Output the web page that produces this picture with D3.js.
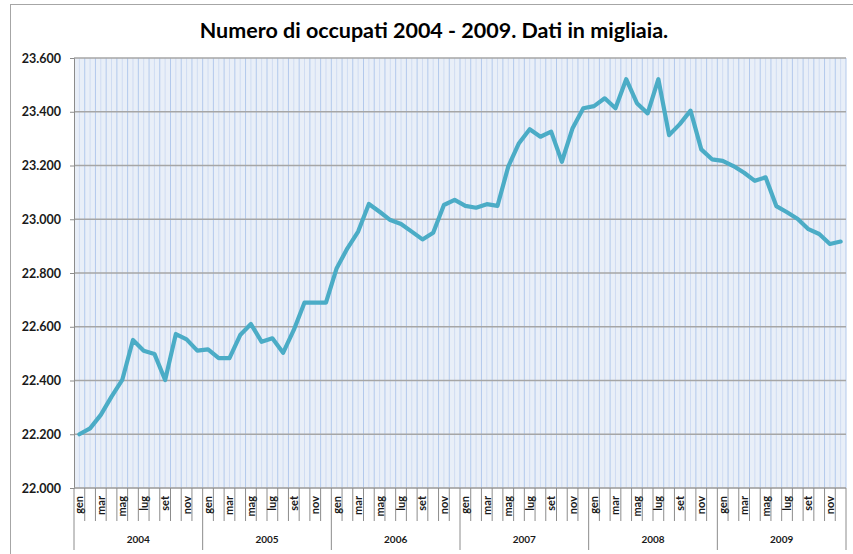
<!DOCTYPE html>
<html>
<head>
<meta charset="utf-8">
<script src="https://cdn.jsdelivr.net/npm/d3@7"></script>
<style>
  body { margin: 0; background: #fff; }
  svg { display: block; font-family: Lato, "Open Sans", sans-serif; }
</style>
</head>
<body>
<svg id="chart"></svg>
<script>
const WIDTH = 853;
const HEIGHT = 554;

// data (migliaia di occupati), one value per month
const years = [2004, 2005, 2006, 2007, 2008, 2009];
const months = ["gen", "feb", "mar", "apr", "mag", "giu", "lug", "ago", "set", "ott", "nov", "dic"];
const occ2004 = [22200, 22222, 22272, 22340, 22402, 22551, 22511, 22499, 22402, 22573, 22553, 22511];
const occ2005 = [22516, 22483, 22483, 22569, 22610, 22544, 22557, 22503, 22588, 22690, 22690, 22690];
const occ2006 = [22818, 22892, 22954, 23057, 23028, 22997, 22982, 22954, 22925, 22950, 23053, 23072];
const occ2007 = [23050, 23043, 23056, 23050, 23196, 23283, 23335, 23307, 23326, 23214, 23339, 23413];
const occ2008 = [23421, 23450, 23413, 23521, 23432, 23394, 23521, 23313, 23354, 23404, 23260, 23223];
const occ2009 = [23217, 23198, 23173, 23143, 23156, 23049, 23026, 23001, 22963, 22945, 22908, 22917];
const yTicks = [22000, 22200, 22400, 22600, 22800, 23000, 23200, 23400, 23600];
const title = "Numero di occupati 2004 - 2009. Dati in migliaia.";

const series = [occ2004, occ2005, occ2006, occ2007, occ2008, occ2009];
const data = [];
series.forEach(function(vals, yi) {
    vals.forEach(function(v, mi) {
        data.push({ year: years[yi], month: months[mi], value: v });
    });
});

const plotLeft = 74, plotRight = 846, plotTop = 58, plotBottom = 488;

const svg = d3.select('#chart')
    .attr('width', WIDTH)
    .attr('height', HEIGHT);

// outer chart frame (only left/top visible in the picture)
svg.append('rect')
    .attr('x', 10.5).attr('y', 4.5)
    .attr('width', 860).attr('height', 570)
    .attr('fill', 'none')
    .attr('stroke', '#a6a6a6')
    .attr('stroke-width', 1);

const it = d3.formatLocale({ decimal: ",", thousands: ".", grouping: [3], currency: ["", "€"] });
const fmt = it.format(",.0f");

const xScale = d3.scaleLinear().domain([0, data.length]).range([plotLeft, plotRight]);
const yScale = d3.scaleLinear().domain([22000, 23600]).range([plotBottom, plotTop]);

// plot background
svg.append('rect')
    .attr('x', plotLeft).attr('y', plotTop)
    .attr('width', plotRight - plotLeft).attr('height', plotBottom - plotTop)
    .attr('fill', '#e9eff8');

// vertical gridlines, every half month
svg.append('g').selectAll('line')
    .data(d3.range(1, data.length * 2 + 1))
    .enter().append('line')
    .attr('x1', d => xScale(d / 2)).attr('x2', d => xScale(d / 2))
    .attr('y1', plotTop).attr('y2', plotBottom)
    .attr('stroke', d => d % 2 === 0 ? '#b3c9ec' : '#cfdcf2')
    .attr('stroke-width', 1);

// horizontal gridlines
svg.append('g').selectAll('line')
    .data(yTicks)
    .enter().append('line')
    .attr('x1', plotLeft).attr('x2', plotRight)
    .attr('y1', d => yScale(d)).attr('y2', d => yScale(d))
    .attr('stroke', '#a6a6a6')
    .attr('stroke-width', 1.5);

// y axis
const leftAxis = d3.axisLeft(yScale).tickValues(yTicks).tickFormat(fmt).tickSize(4).tickPadding(9);
const ya = svg.append('g').attr('transform', 'translate(' + plotLeft + ',0)').call(leftAxis);
ya.select('.domain').attr('stroke', '#8c8c8c');
ya.selectAll('.tick line').attr('stroke', '#8c8c8c');
ya.selectAll('.tick text')
    .attr('fill', '#1a1a1a')
    .style('font-size', '12.5px')
    .style('font-weight', 'bold')
    .style('font-family', 'Lato, sans-serif');

// x axis line
svg.append('line')
    .attr('x1', plotLeft).attr('x2', plotRight)
    .attr('y1', plotBottom).attr('y2', plotBottom)
    .attr('stroke', '#a6a6a6');

// month tick marks
svg.append('g').selectAll('line')
    .data(d3.range(1, data.length).filter(i => i % 12 !== 0))
    .enter().append('line')
    .attr('x1', d => xScale(d)).attr('x2', d => xScale(d))
    .attr('y1', plotBottom).attr('y2', 521)
    .attr('stroke', '#8c8c8c');

// year separators
svg.append('g').selectAll('line')
    .data(d3.range(0, years.length + 1))
    .enter().append('line')
    .attr('x1', d => xScale(d * 12)).attr('x2', d => xScale(d * 12))
    .attr('y1', plotBottom).attr('y2', 550)
    .attr('stroke', '#8c8c8c');

// month labels (every other month)
svg.append('g').selectAll('text')
    .data(data.filter((d, i) => i % 2 === 0))
    .enter().append('text')
    .attr('transform', (d, i) => 'translate(' + (xScale(i * 2 + 0.5) + 4) + ',496) rotate(-90)')
    .attr('text-anchor', 'end')
    .attr('fill', '#1a1a1a')
    .style('font-size', '11px')
    .style('font-weight', 'bold')
    .text(d => d.month);

// year labels
svg.append('g').selectAll('text')
    .data(years)
    .enter().append('text')
    .attr('x', (d, i) => xScale(i * 12 + 6))
    .attr('y', 543)
    .attr('text-anchor', 'middle')
    .attr('fill', '#1a1a1a')
    .style('font-size', '10px')
    .style('font-weight', 'bold')
    .text(d => d);

// the series line
const line = d3.line()
    .x((d, i) => xScale(i + 0.5))
    .y(d => yScale(d.value));

svg.append('path')
    .datum(data)
    .attr('d', line)
    .attr('fill', 'none')
    .attr('stroke', '#4bacc6')
    .attr('stroke-width', 4.2)
    .attr('stroke-linejoin', 'round')
    .attr('stroke-linecap', 'round');

// title
svg.append('text')
    .attr('x', 434).attr('y', 38)
    .attr('text-anchor', 'middle')
    .attr('fill', '#000')
    .style('font-size', '21.5px')
    .style('font-weight', 'bold')
    .text(title);
</script>
</body>
</html>
